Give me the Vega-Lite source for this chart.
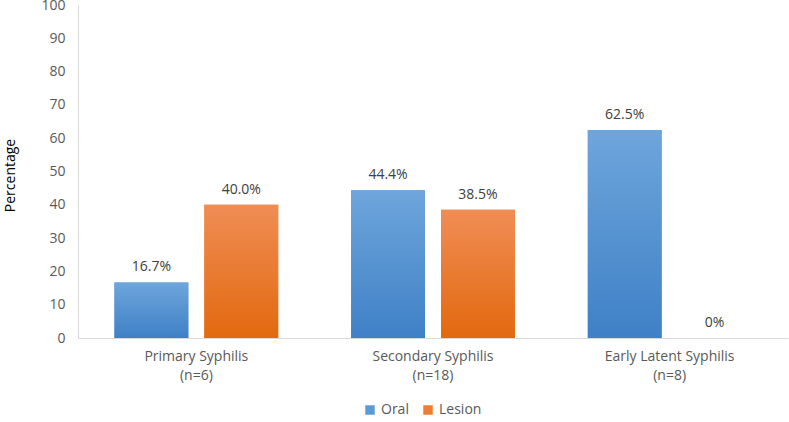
{
  "$schema": "https://vega.github.io/schema/vega-lite/v6.json",
  "width": 710,
  "height": 333,
  "autosize": {"type": "none"},
  "padding": {"left": 78, "top": 5, "right": 1, "bottom": 84},
  "config": {
    "view": {"stroke": null},
    "font": "Open Sans",
    "axis": {"labelFont": "Open Sans", "titleFont": "Open Sans", "labelColor": "#595959", "labelFontSize": 14, "titleFontWeight": "normal"},
    "legend": {"labelFont": "Open Sans", "labelColor": "#595959", "labelFontSize": 14}
  },
  "data": {
    "values": [
      {"group": "Primary Syphilis|(n=6)", "type": "Oral", "value": 16.7, "label": "16.7%"},
      {"group": "Primary Syphilis|(n=6)", "type": "Lesion", "value": 40.0, "label": "40.0%"},
      {"group": "Secondary Syphilis|(n=18)", "type": "Oral", "value": 44.4, "label": "44.4%"},
      {"group": "Secondary Syphilis|(n=18)", "type": "Lesion", "value": 38.5, "label": "38.5%"},
      {"group": "Early Latent Syphilis|(n=8)", "type": "Oral", "value": 62.5, "label": "62.5%"},
      {"group": "Early Latent Syphilis|(n=8)", "type": "Lesion", "value": 0, "label": "0%"}
    ]
  },
  "encoding": {
    "x": {
      "field": "group", "type": "nominal",
      "sort": ["Primary Syphilis|(n=6)", "Secondary Syphilis|(n=18)", "Early Latent Syphilis|(n=8)"],
      "scale": {"paddingInner": 0.308, "paddingOuter": 0.154},
      "axis": {"title": null, "labelAngle": 0, "ticks": false, "domainColor": "#D9D9D9", "labelPadding": 11, "labelLineHeight": 19, "labelExpr": "split(datum.label, '|')"}
    },
    "xOffset": {"field": "type", "type": "nominal", "sort": ["Oral", "Lesion"], "scale": {"paddingInner": 0.178, "paddingOuter": 0}},
    "y": {
      "field": "value", "type": "quantitative",
      "scale": {"domain": [0, 100], "nice": false},
      "axis": {"title": "Percentage", "titleColor": "#000000", "titleFontSize": 14, "titleX": -68, "titleY": 170, "titleAngle": -90, "titleAlign": "center", "titleBaseline": "middle", "grid": false, "ticks": false, "domainColor": "#D9D9D9", "labelPadding": 13, "values": [0, 10, 20, 30, 40, 50, 60, 70, 80, 90, 100]}
    }
  },
  "layer": [
    {
      "mark": {"type": "bar"},
      "encoding": {
        "color": {
          "field": "type", "type": "nominal",
          "scale": {"domain": ["Oral", "Lesion"], "range": ["#5B9BD5", "#ED7D31"]},
          "legend": {"title": null, "orient": "none", "direction": "horizontal", "legendX": 285, "legendY": 398, "symbolType": "square", "symbolSize": 90, "symbolStrokeWidth": 0, "columnPadding": 12, "labelOffset": 4}
        }
      }
    },
    {
      "mark": {"type": "bar"},
      "encoding": {
        "fill": {
          "condition": {"test": "datum.type === 'Oral'", "value": {"gradient": "linear", "x1": 0, "y1": 0, "x2": 0, "y2": 1, "stops": [{"offset": 0, "color": "#6EA6DC"}, {"offset": 1, "color": "#3F80C6"}]}},
          "value": {"gradient": "linear", "x1": 0, "y1": 0, "x2": 0, "y2": 1, "stops": [{"offset": 0, "color": "#F08D55"}, {"offset": 1, "color": "#E2690F"}]}
        }
      }
    },
    {
      "mark": {"type": "text", "dy": -15, "fontSize": 14, "color": "#404040"},
      "encoding": {"text": {"field": "label"}}
    }
  ]
}
